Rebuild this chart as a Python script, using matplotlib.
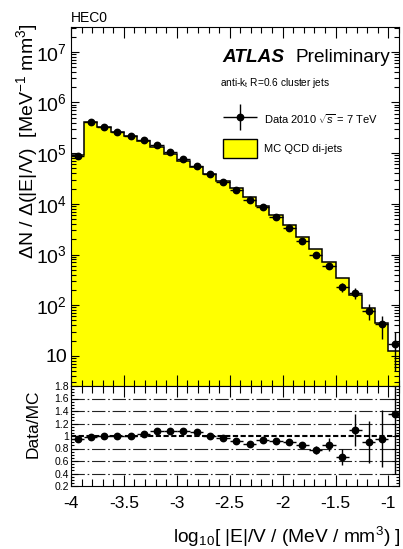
import numpy as np
import matplotlib
matplotlib.use("Agg")
import matplotlib.pyplot as plt
from matplotlib.ticker import MultipleLocator, LogLocator, FuncFormatter, NullFormatter, FormatStrFormatter
from matplotlib.patches import Patch
from matplotlib.container import ErrorbarContainer
from matplotlib.legend_handler import HandlerErrorbar

plt.rcParams['font.family'] = ['Liberation Sans', 'DejaVu Sans']
plt.rcParams['mathtext.fontset'] = 'custom'
plt.rcParams['mathtext.rm'] = 'Liberation Sans'
plt.rcParams['mathtext.it'] = 'Liberation Sans:italic'
plt.rcParams['mathtext.bf'] = 'Liberation Sans:bold'
plt.rcParams['axes.unicode_minus'] = False

# ---- data ----
bin_edges = [-4.0, -3.875, -3.75, -3.625, -3.5, -3.375, -3.25, -3.125, -3.0,
             -2.875, -2.75, -2.625, -2.5, -2.375, -2.25, -2.125, -2.0,
             -1.875, -1.75, -1.625, -1.5, -1.375, -1.25, -1.125, -1.0, -0.875]

data_vals = [8.6e4, 4.08e5, 3.30e5, 2.62e5, 2.15e5, 1.79e5, 1.42e5, 1.06e5, 7.6e4,
             5.6e4, 3.87e4, 2.72e4, 1.86e4, 1.17e4, 8.6e3, 5.5e3, 3.4e3, 1.87e3,
             1000, 605, 229, 174, 78, 42, 17.3]
data_errs = [900, 2000, 1800, 1500, 1300, 1100, 1000, 800, 700, 560, 450, 330, 280,
             210, 170, 140, 110, 75, 90, 70, 46, 41, 28, 20, 12.3]
mc_vals = [9.0e4, 4.15e5, 3.30e5, 2.62e5, 2.14e5, 1.74e5, 1.32e5, 9.8e4, 7.1e4,
           5.3e4, 3.87e4, 2.8e4, 2.02e4, 1.35e4, 9.25e3, 6.0e3, 3.8e3, 2.18e3,
           1290, 705, 346, 162, 86, 44, 12.7]
ratio_vals = [0.95, 0.984, 1.0, 1.0, 1.007, 1.027, 1.075, 1.085, 1.08, 1.06, 1.0,
              0.973, 0.92, 0.865, 0.93, 0.913, 0.908, 0.856, 0.777, 0.862, 0.66,
              1.09, 0.904, 0.957, 1.36]
ratio_errs = [0.012, 0.01, 0.01, 0.01, 0.01, 0.01, 0.01, 0.01, 0.012, 0.012, 0.012,
              0.012, 0.015, 0.018, 0.02, 0.025, 0.03, 0.04, 0.07, 0.1, 0.13, 0.255,
              0.33, 0.46, 0.97]
ratio_ref_lines = [0.4, 0.6, 0.8, 1.2, 1.4, 1.6]
ratio_yticks = [0.2, 0.4, 0.6, 0.8, 1.0, 1.2, 1.4, 1.6, 1.8]

edges = np.array(bin_edges)
centers = 0.5 * (edges[:-1] + edges[1:])
halfw = 0.5 * (edges[1:] - edges[:-1])

W, H = 403, 549
fig = plt.figure(figsize=(W / 100, H / 100), dpi=100)
ax = fig.add_axes([71 / W, 1 - 386 / H, 328 / W, 359 / H])
axr = fig.add_axes([71 / W, 1 - 486 / H, 328 / W, 100 / H])

# ---- main panel ----
ax.set_yscale('log')
ax.stairs(mc_vals, edges, baseline=1e-3, fill=True, facecolor='#ffff00', edgecolor='none', zorder=1)
ax.stairs(mc_vals, edges, baseline=1e-3, color='black', lw=1.1, zorder=2)
eb = ax.errorbar(centers, data_vals, xerr=halfw, yerr=data_errs, fmt='o', color='black',
                 ms=4.6, elinewidth=1.0, capsize=0, zorder=3)
ax.set_xlim(-4, -0.9)
ax.set_ylim(10 ** 0.405, 10 ** 7.49)
ax.xaxis.set_major_locator(MultipleLocator(0.5))
ax.xaxis.set_minor_locator(MultipleLocator(0.1))
ax.yaxis.set_major_locator(LogLocator(base=10, numticks=20))
ax.yaxis.set_minor_locator(LogLocator(base=10, subs=np.arange(2, 10), numticks=20))
ax.yaxis.set_minor_formatter(NullFormatter())


def logfmt(v, pos):
    e = int(round(np.log10(v)))
    if e == 1:
        return '10'
    return r'$\mathregular{10^{%d}}$' % e


ax.yaxis.set_major_formatter(FuncFormatter(logfmt))
ax.tick_params(axis='x', which='both', direction='in', top=True, bottom=True, labelbottom=False)
ax.tick_params(axis='x', which='major', length=8, width=0.8)
ax.tick_params(axis='x', which='minor', length=4.5, width=0.8)
ax.tick_params(axis='y', which='both', direction='in', left=True, right=True)
ax.tick_params(axis='y', which='major', length=6, width=0.8, labelsize=14, pad=3)
ax.tick_params(axis='y', which='minor', length=3.5, width=0.8, labelleft=False)
for s in ax.spines.values():
    s.set_linewidth(0.8)

# legend
mc_patch = Patch(facecolor='#ffff00', edgecolor='black', linewidth=1.0)
leg = ax.legend([eb, mc_patch], [r'Data 2010 $\sqrt{s}$ = 7 TeV', 'MC QCD di-jets'],
                handler_map={ErrorbarContainer: HandlerErrorbar(xerr_size=1.53, yerr_size=1.17)},
                loc='upper left', bbox_to_anchor=(223 / W, 1 - 111 / H),
                bbox_transform=fig.transFigure, borderaxespad=0, borderpad=0,
                frameon=False, fontsize=8, handlelength=3.06, handleheight=2.16,
                labelspacing=0.9, handletextpad=0.63, numpoints=1)

# ---- ratio panel ----
for v in ratio_ref_lines:
    axr.axhline(v, color='#222222', lw=0.8, ls=(0, (12, 2.5, 1.5, 2.5)), zorder=1)
axr.axhline(1.0, color='black', lw=1.5, ls=(0, (2.5, 1.2)), zorder=1)
axr.errorbar(centers, ratio_vals, xerr=halfw, yerr=ratio_errs, fmt='o', color='black',
             ms=4.6, elinewidth=1.0, capsize=0, zorder=3)
axr.set_xlim(-4, -0.9)
axr.set_ylim(0.2, 1.8)
axr.set_yticks(ratio_yticks)
axr.yaxis.set_major_formatter(FormatStrFormatter('%g'))
axr.yaxis.set_minor_locator(MultipleLocator(0.05))
axr.yaxis.set_minor_formatter(NullFormatter())
axr.xaxis.set_major_locator(MultipleLocator(0.5))
axr.xaxis.set_minor_locator(MultipleLocator(0.1))
axr.xaxis.set_major_formatter(FormatStrFormatter('%g'))
axr.tick_params(axis='x', which='both', direction='in', top=True, bottom=True)
axr.tick_params(axis='x', which='major', length=8, width=0.8, labelsize=12.5, pad=7)
axr.tick_params(axis='x', which='minor', length=5, width=0.8, labelbottom=False)
axr.tick_params(axis='y', which='both', direction='in', left=True, right=True)
axr.tick_params(axis='y', which='major', length=5, width=0.8, labelsize=7.5, pad=1.5)
axr.tick_params(axis='y', which='minor', length=2.5, width=0.8, labelleft=False)
for s in axr.spines.values():
    s.set_linewidth(0.8)

# ---- texts ----
fig.text(71 / W, 1 - 18 / H, 'HEC0', ha='left', va='center', fontsize=10)
fig.text(222 / W, 1 - 58 / H, 'ATLAS', ha='left', va='center', fontsize=13.7,
         fontweight='bold', fontstyle='italic')
fig.text(390 / W, 1 - 58 / H, 'Preliminary', ha='right', va='center', fontsize=13.7)
fig.text(220 / W, 1 - 83 / H, r'anti-k$_{\mathrm{t}}$ R=0.6 cluster jets', ha='left', va='center',
         fontsize=7.3)
fig.text(27 / W, 1 - 23 / H, r'ΔN / Δ(|E|/V)  [MeV$^{-1}$ mm$^{3}$]', rotation=90,
         ha='center', va='top', fontsize=14)
fig.text(33 / W, 1 - 424 / H, 'Data/MC', rotation=90, ha='center', va='center', fontsize=12.5)
fig.text(401 / W, 1 - 537 / H, r'log$_{10}$[ |E|/V / (MeV / mm$^{3}$) ]', ha='right',
         va='center', fontsize=13.8)

fig.savefig('out.png', dpi=100)
